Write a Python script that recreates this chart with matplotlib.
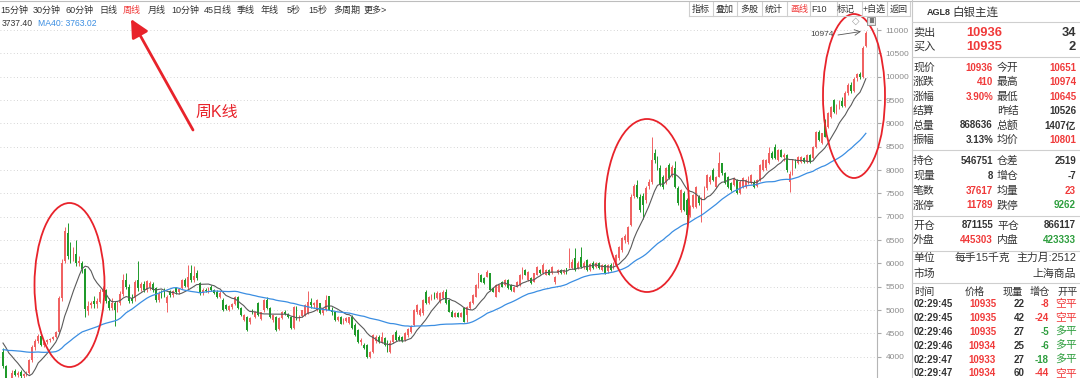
import numpy as np
import pandas as pd
import matplotlib
matplotlib.use('Agg')
import matplotlib.pyplot as plt
from matplotlib.patches import Ellipse, Rectangle

plt.rcParams['font.family'] = ['Liberation Sans', 'Noto Sans CJK SC', 'DejaVu Sans']

# weekly candles, AGL8 silver main contract
opens = [
    4110, 3790, 3300, 3500, 3700, 3610, 3680, 3580, 3620, 3660,
    3920, 4200, 4330, 4440, 4260, 4310, 4350, 4380, 4430, 4520,
    5250, 6050, 6650, 6300, 6100, 6200, 6000, 6000, 5880, 4980,
    5100, 5200, 5120, 5180, 5380, 5430, 5200, 5050, 5150, 5000,
    5150, 5350, 5650, 5500, 5250, 5250, 5640, 5470, 5560, 5420,
    5500, 5560, 5470, 5220, 5350, 5450, 5150, 5400, 5320, 5480,
    5380, 5470, 5640, 5500, 5790, 5640, 5790, 5570, 5360, 5430,
    5400, 5500, 5430, 5390, 5280, 5210, 5100, 5000, 5060, 5120,
    5280, 5040, 4780, 4850, 4740, 5000, 4850, 5150, 4810, 4990,
    5210, 5040, 4780, 4850, 4600, 4820, 4960, 4920, 4860, 4620,
    5040, 4800, 4870, 4900, 4930, 5180, 5100, 5000, 5140, 4930,
    5000, 5290, 5000, 4960, 4790, 4850, 4710, 4760, 4720, 4860,
    4680, 4570, 4320, 4250, 4250, 4000, 4110, 4340, 4430, 4320,
    4390, 4320, 4110, 4320, 4530, 4430, 4430, 4360, 4460, 4530,
    4680, 4950, 4900, 4930, 5390, 5150, 5240, 5350, 5250, 5180,
    5250, 5392, 5214, 4964, 4857, 4928, 4857, 5035, 4892, 5035,
    5142, 5285, 5500, 5750, 5678, 5714, 5785, 5464, 5285, 5392,
    5607, 5535, 5642, 5535, 5392, 5500, 5535, 5678, 5857, 5642,
    5678, 5607, 5750, 5857, 5785, 5750, 5857, 5785, 5607, 5785,
    5857, 5785, 5892, 5928, 5892, 6107, 5900, 6143, 5930, 6071,
    5860, 6000, 5928, 6000, 5857, 5964, 5830, 5964, 5900, 5964,
    6107, 6286, 6500, 6450, 6822, 7450, 7679, 7429, 7450, 7357,
    7650, 7750, 8357, 8214, 8036, 7857, 7750, 8107, 7893, 8036,
    7607, 7143, 7500, 7357, 7036, 7214, 7214, 7429, 7100, 7400,
    7607, 7750, 8000, 7643, 7857, 8143, 7929, 7857, 7714, 7679,
    7786, 7500, 7643, 7643, 7714, 7714, 7750, 7650, 7786, 8000,
    8036, 8143, 8357, 8500, 8214, 8429, 8286, 8320, 7750, 7920,
    8214, 8143, 8180, 8250, 8179, 8321, 8250, 8500, 8821, 8571,
    9071, 8929, 9143, 9500, 9250, 9380, 9470, 9380, 9660, 9820,
    9700, 9980, 10050, 10000, 10651,
]
highs = [
    4180, 3820, 3420, 3720, 3740, 3700, 3720, 3640, 3700, 3950,
    4250, 4380, 4480, 4500, 4330, 4380, 4410, 4450, 4540, 5300,
    6100, 6780, 6860, 6450, 6350, 6500, 6150, 6050, 5900, 5200,
    5200, 5300, 5250, 5450, 5520, 5460, 5250, 5250, 5200, 5200,
    5400, 5780, 5800, 5550, 5350, 5650, 6050, 5600, 5620, 5650,
    5620, 5600, 5500, 5400, 5420, 5480, 5320, 5420, 5420, 5500,
    5480, 5660, 5680, 5960, 5960, 5950, 5850, 5600, 5480, 5480,
    5500, 5540, 5460, 5420, 5400, 5250, 5130, 5100, 5150, 5300,
    5300, 5060, 4920, 4880, 4850, 5030, 4980, 5180, 4960, 5230,
    5280, 5060, 4900, 4880, 4840, 4970, 4990, 4940, 4880, 5080,
    5080, 4900, 5010, 5120, 5400, 5250, 5180, 5230, 5160, 5050,
    5320, 5300, 5060, 4980, 4880, 4870, 4830, 4850, 4860, 4900,
    4720, 4600, 4400, 4300, 4280, 4120, 4480, 4460, 4460, 4530,
    4420, 4350, 4350, 4480, 4570, 4470, 4450, 4520, 4620, 4670,
    5020, 5120, 5050, 5230, 5430, 5300, 5340, 5390, 5400, 5380,
    5420, 5460, 5240, 4990, 4950, 4950, 4950, 5060, 5090, 5200,
    5340, 5560, 5800, 5780, 5700, 5857, 5800, 5480, 5560, 5550,
    5630, 5660, 5660, 5550, 5520, 5620, 5770, 5928, 5880, 5840,
    5700, 5800, 5950, 5880, 6000, 5870, 5880, 5940, 5730, 5870,
    5870, 5870, 5910, 6320, 6100, 6320, 6050, 6357, 6050, 6100,
    6000, 6050, 6030, 6020, 5990, 5990, 5980, 6000, 6020, 6200,
    6380, 6560, 6620, 6800, 7480, 7700, 7786, 7480, 7500, 7650,
    7800, 8714, 8450, 8300, 8100, 7900, 8060, 8150, 8100, 8200,
    7650, 7600, 7550, 7400, 7240, 7480, 7660, 7460, 7420, 7650,
    7920, 7900, 8050, 7880, 8393, 8160, 7950, 7880, 7740, 7840,
    7810, 7780, 7840, 7810, 7880, 7920, 7780, 7800, 8130, 8240,
    8240, 8500, 8400, 8550, 8450, 8460, 8360, 8340, 7980, 8230,
    8240, 8300, 8300, 8280, 8340, 8340, 8520, 8840, 8860, 8800,
    9100, 9240, 9380, 9520, 9420, 9500, 9560, 9700, 9860, 9880,
    9990, 10080, 10100, 10650, 10974,
]
lows = [
    3760, 3250, 2950, 3350, 3580, 3560, 3540, 3520, 3580, 3620,
    3880, 4150, 4300, 4230, 4200, 4280, 4320, 4350, 4400, 4500,
    5200, 6000, 6100, 6000, 6050, 5950, 5950, 5800, 4850, 4900,
    5050, 5050, 5050, 5150, 5300, 5150, 5000, 5000, 4650, 4950,
    5100, 5300, 5450, 5150, 5150, 5200, 5400, 5400, 5380, 5380,
    5430, 5380, 5180, 5180, 5260, 5280, 4960, 5280, 5280, 5350,
    5350, 5440, 5500, 5450, 5600, 5600, 5650, 5330, 5320, 5380,
    5370, 5400, 5340, 5260, 5250, 4980, 5000, 4970, 5030, 5100,
    5020, 4870, 4760, 4550, 4700, 4910, 4820, 4870, 4780, 4960,
    5020, 4830, 4750, 4560, 4580, 4800, 4900, 4830, 4590, 4600,
    4780, 4770, 4850, 4880, 4920, 5050, 5050, 4980, 4910, 4900,
    4980, 4990, 4900, 4770, 4760, 4700, 4690, 4740, 4700, 4590,
    4440, 4300, 4250, 4170, 3980, 3970, 4080, 4300, 4300, 4300,
    4230, 4090, 4080, 4300, 4340, 4330, 4320, 4340, 4430, 4510,
    4660, 4920, 4880, 4900, 5120, 5120, 5220, 5240, 5230, 5160,
    5230, 5130, 4950, 4840, 4840, 4850, 4840, 4740, 4750, 5020,
    5120, 5270, 5480, 5590, 5560, 5700, 5410, 5380, 5270, 5380,
    5490, 5520, 5450, 5410, 5380, 5490, 5520, 5660, 5740, 5630,
    5560, 5590, 5740, 5770, 5770, 5740, 5740, 5770, 5560, 5770,
    5770, 5770, 5770, 5900, 5870, 5840, 5880, 5900, 5880, 5840,
    5840, 5880, 5900, 5870, 5830, 5770, 5800, 5840, 5880, 5940,
    6080, 6250, 6430, 6420, 6800, 7400, 7400, 7100, 6950, 7300,
    7600, 7700, 8150, 8000, 7650, 7600, 7700, 7800, 7850, 7620,
    7260, 7100, 7120, 6821, 7000, 7180, 7180, 7250, 6893, 7380,
    7580, 7700, 7760, 7620, 7840, 7900, 7700, 7620, 7550, 7650,
    7480, 7480, 7620, 7620, 7690, 7700, 7620, 7630, 7760, 7980,
    8000, 8120, 8230, 8230, 8200, 8270, 8200, 7950, 7530, 7900,
    8050, 8120, 8160, 8160, 8160, 8160, 8230, 8480, 8620, 8550,
    8700, 8900, 9120, 9230, 9200, 9300, 9350, 9350, 9600, 9650,
    9680, 9900, 9960, 9980, 10645,
]
closes = [
    3790, 3300, 3150, 3650, 3610, 3660, 3580, 3620, 3650, 3920,
    4200, 4330, 4440, 4260, 4310, 4350, 4380, 4430, 4520, 5250,
    6000, 6700, 6150, 6120, 6200, 6010, 6060, 5880, 5020, 5080,
    5150, 5120, 5200, 5380, 5450, 5200, 5050, 5150, 5000, 5150,
    5350, 5650, 5500, 5200, 5200, 5600, 5470, 5550, 5420, 5620,
    5570, 5420, 5210, 5350, 5300, 5300, 5280, 5320, 5400, 5380,
    5450, 5640, 5520, 5700, 5640, 5720, 5680, 5360, 5430, 5400,
    5470, 5430, 5360, 5280, 5360, 5000, 5020, 5080, 5120, 5280,
    5040, 4890, 4890, 4570, 4830, 4930, 4960, 4890, 4950, 5210,
    5040, 4850, 4890, 4580, 4820, 4950, 4920, 4850, 4610, 5060,
    4800, 4880, 5000, 5100, 5180, 5100, 5150, 5210, 4930, 5000,
    5210, 5000, 4960, 4790, 4850, 4710, 4800, 4820, 4840, 4610,
    4460, 4320, 4350, 4180, 4000, 4100, 4460, 4430, 4320, 4430,
    4250, 4110, 4290, 4460, 4360, 4350, 4340, 4500, 4600, 4640,
    5000, 5100, 5000, 5210, 5140, 5280, 5320, 5250, 5360, 5357,
    5392, 5142, 4964, 4857, 4928, 4860, 4928, 4750, 5071, 5178,
    5321, 5535, 5785, 5607, 5571, 5821, 5428, 5392, 5535, 5535,
    5500, 5642, 5464, 5428, 5500, 5607, 5750, 5821, 5750, 5821,
    5571, 5785, 5928, 5785, 5964, 5857, 5750, 5928, 5714, 5857,
    5785, 5857, 5785, 6178, 6035, 5857, 6000, 5928, 6000, 5857,
    5980, 5893, 6000, 5893, 5964, 5786, 5964, 5857, 6000, 6179,
    6357, 6536, 6580, 6786, 7429, 7650, 7429, 7143, 7250, 7607,
    7750, 8214, 8214, 8036, 7679, 7643, 8036, 7821, 8071, 7643,
    7286, 7571, 7143, 7036, 7214, 7464, 7643, 7286, 7393, 7607,
    7893, 7857, 7786, 7857, 8143, 7929, 7714, 7643, 7571, 7821,
    7500, 7750, 7821, 7786, 7857, 7893, 7643, 7780, 8107, 8214,
    8214, 8357, 8250, 8250, 8429, 8286, 8320, 8000, 7920, 8214,
    8071, 8286, 8280, 8180, 8321, 8179, 8500, 8821, 8643, 8786,
    8714, 9214, 9357, 9250, 9380, 9450, 9380, 9660, 9820, 9700,
    9960, 10050, 10000, 10614, 10936,
]
# weeks before the visible window, only used to seed the moving averages
warmup_closes = [
    3520, 3610, 3680, 3790, 3760, 3880, 4010, 3950, 4120, 4230,
    4180, 4350, 4480, 4400, 4290, 4330, 4250, 4200,
    4150, 4180, 4120, 4200, 4160, 4100, 4130, 4180, 4220, 4150, 4200, 4250,
    4280, 4300, 4330, 4380, 4350, 4400, 4420, 4380, 4290,
]

price_ticks = list(range(4000, 11001, 500))

tool_labels = ['15分钟', '30分钟', '60分钟', '日线', '周线', '月线', '10分钟', '45日线',
               '季线', '年线', '5秒', '15秒', '多周期', '更多>']
tool_x = [0, 33, 66, 99, 123, 148, 171, 204, 237, 261, 287, 308, 333, 364]
btn_labels = ['指标', '叠加', '多股', '统计', '画线', 'F10', '标记', '+自选', '返回']
btn_x = [701, 724.5, 749, 774, 799.5, 819.5, 846, 874, 899]
btn_sep = [689, 713, 737, 762, 787, 810, 837, 862, 887, 910]

stat_y = [67.7, 82, 96.5, 111, 125.5, 140, 160.5, 176, 191, 205.5, 225.5, 240]
stat_l = ['现价', '涨跌', '涨幅', '结算', '总量', '振幅', '持仓', '现量', '笔数', '涨停', '开仓', '外盘']
stat_lv = ['10936', '410', '3.90%', '', '868636', '3.13%', '546751', '8', '37617', '11789', '871155', '445303']
stat_lc = ['r', 'r', 'r', 'd', 'd', 'd', 'd', 'd', 'r', 'r', 'd', 'r']
stat_r = ['今开', '最高', '最低', '昨结', '总额', '均价', '仓差', '增仓', '均量', '跌停', '平仓', '内盘']
stat_rv = ['10651', '10974', '10645', '10526', '1407亿', '10801', '2519', '-7', '23', '9262', '866117', '423333']
stat_rc = ['r', 'r', 'r', 'd', 'd', 'r', 'd', 'd', 'r', 'g', 'd', 'g']

trade_times = ['02:29:45', '02:29:45', '02:29:46', '02:29:46', '02:29:47', '02:29:47']
trade_prices = ['10935', '10935', '10935', '10934', '10933', '10934']
trade_vols = ['22', '42', '27', '25', '27', '60']
trade_oi = ['-8', '-24', '-5', '-6', '-18', '-44']
trade_types = ['空平', '空平', '多平', '多平', '多平', '空平']

RED = '#f03a3a'
UP = '#f06262'
DOWN = '#1f9a2a'
GRN = '#2e9e3e'
DARK = '#333333'
MARK = '#e8232b'
cmap = {'r': RED, 'g': GRN, 'd': DARK}

o = np.array(opens, float)
h = np.array(highs, float)
l = np.array(lows, float)
c = np.array(closes, float)
n = len(c)
x = np.arange(n)

allc = pd.Series(warmup_closes + closes, dtype=float)
ma10 = allc.rolling(10).mean().values[-n:]
ma40 = allc.rolling(40).mean().values[-n:]

fig = plt.figure(figsize=(10.8, 3.78), dpi=100)
ax = fig.add_axes([0, 0, 877 / 1080, 350 / 378])

up = c >= o
cols = np.where(up, UP, DOWN)
ax.vlines(x, l, h, colors=cols, lw=0.7, zorder=3)
body_lo = np.minimum(o, c)
body_h = np.maximum(np.abs(c - o), 10)
ax.bar(x, body_h, bottom=body_lo, width=0.62, color=cols, lw=0, zorder=3)
ax.plot(x, ma10, color='#5a5a5a', lw=0.8, zorder=4)
ax.plot(x, ma40, color='#3b8ee2', lw=0.9, zorder=4)

ax.set_xlim(-1.02, 297.8)
ax.set_ylim(3543, 11043)
ax.set_yticks(price_ticks)
ax.yaxis.tick_right()
ax.tick_params(axis='y', direction='out', length=3, color='#aaaaaa', pad=3,
               labelsize=6, labelcolor='#8c8c8c')
ax.set_xticks([])
ax.grid(axis='y', color='#c8c8c8', lw=0.6, linestyle=(0, (1, 3)))
for s in ['top', 'left', 'bottom']:
    ax.spines[s].set_visible(False)
ax.spines['right'].set_color('#b5b5b5')
ax.spines['right'].set_linewidth(0.8)

# overlay in pixel coordinates
ov = fig.add_axes([0, 0, 1, 1], zorder=5)
ov.axis('off')


def txt(px, py, s, **kw):
    kw.setdefault('va', 'center')
    kw.setdefault('color', DARK)
    ov.text(px, py, s, **kw)


def hline(py, x0, x1, col='#cfcfcf'):
    ov.plot([x0, x1], [py, py], color=col, lw=0.8)


hline(1, 0, 1080, '#bdbdbd')
for lab, tx in zip(tool_labels, tool_x):
    txt(tx, 10, lab, fontsize=6.5, color=RED if lab == '周线' else DARK)
txt(2, 23.5, '3737.40', fontsize=6.2)
txt(38, 23.5, 'MA40: 3763.02', fontsize=6.2, color='#3b8ee2')

for sx in btn_sep:
    ov.plot([sx, sx], [2, 16], color='#cfcfcf', lw=0.8)
hline(16, btn_sep[0], btn_sep[-1])
for lab, bx in zip(btn_labels, btn_x):
    txt(bx, 9.3, lab, fontsize=6.5, ha='center', color=RED if lab == '画线' else DARK)

# marks drawn on the chart
for cx, cy, w, hh in [(69.5, 285, 70, 164), (647, 205.5, 84, 173), (854, 96, 62, 164)]:
    ov.add_patch(Ellipse((cx, cy), w, hh, fill=False, ec=MARK, lw=1.3))
ov.annotate('', xy=(131, 19), xytext=(193, 130),
            arrowprops=dict(arrowstyle='-|>,head_length=0.9,head_width=0.45', color=MARK,
                            lw=2, shrinkA=0, shrinkB=0, mutation_scale=12))
txt(195, 112, '周K线', fontsize=11.5, color=MARK)
txt(822, 35, '10974', fontsize=6, ha='center', color='#444444')
ov.annotate('', xy=(861, 31.5), xytext=(838, 35),
            arrowprops=dict(arrowstyle='->', color='#555555', lw=0.6, shrinkA=0, shrinkB=0))
txt(856, 21, '◇', fontsize=7, ha='center', color='#999999', family='DejaVu Sans')
ov.add_patch(Rectangle((867, 16.5), 8, 8, fc='#e6e6e6', ec='#888888', lw=0.6))
ov.add_patch(Rectangle((870, 18), 4, 5, fc='#777777', ec='none'))

# quote panel
ov.plot([912, 912], [0, 378], color='#c8c8c8', lw=0.8)
txt(927, 12.5, 'AGL8', fontsize=6.5, weight='bold')
txt(952, 12.5, '白银主连', fontsize=8.3)
for sy in [21.7, 57, 150, 215.5, 250.5, 283]:
    hline(sy, 912, 1080)

txt(913, 33, '卖出', fontsize=8)
txt(1002, 33, '10936', fontsize=9.3, weight='bold', ha='right', color=RED)
txt(1076, 33, '34', fontsize=9.3, weight='bold', ha='right')
txt(913, 47, '买入', fontsize=8)
txt(1002, 47, '10935', fontsize=9.3, weight='bold', ha='right', color=RED)
txt(1076, 47, '2', fontsize=9.3, weight='bold', ha='right')

for sy, a, av, ac, b, bv, bc in zip(stat_y, stat_l, stat_lv, stat_lc, stat_r, stat_rv, stat_rc):
    txt(913, sy, a, fontsize=7.8)
    txt(993, sy, av, fontsize=7, weight='bold', ha='right', color=cmap[ac])
    txt(997, sy, b, fontsize=7.8)
    txt(1076, sy, bv, fontsize=7, weight='bold', ha='right', color=cmap[bc])

txt(913, 258, '单位', fontsize=7.8)
txt(955, 258, '每手15千克', fontsize=7.8)
txt(1076, 258, '主力月:2512', fontsize=7.8, ha='right')
txt(913, 274, '市场', fontsize=7.8)
txt(1076, 274, '上海商品', fontsize=7.8, ha='right')

txt(914, 292, '时间', fontsize=7.3)
txt(975, 292, '价格', fontsize=7.3, ha='center')
txt(1012.5, 292, '现量', fontsize=7.3, ha='center')
txt(1040, 292, '增仓', fontsize=7.3, ha='center')
txt(1067.5, 292, '开平', fontsize=7.3, ha='center')
for k, (tt, tp, tv, toi, tk) in enumerate(zip(trade_times, trade_prices, trade_vols, trade_oi, trade_types)):
    ty = 304 + k * 13.9
    tc = RED if tk == '空平' else GRN
    txt(914, ty, tt, fontsize=7, weight='bold')
    txt(996, ty, tp, fontsize=7, weight='bold', ha='right', color=RED)
    txt(1025, ty, tv, fontsize=7, weight='bold', ha='right')
    txt(1049, ty, toi, fontsize=7, weight='bold', ha='right', color=tc)
    txt(1077, ty, tk, fontsize=7.8, ha='right', color=tc)

ov.set_xlim(0, 1080)
ov.set_ylim(378, 0)

fig.savefig('out.png', dpi=100, facecolor='white')
